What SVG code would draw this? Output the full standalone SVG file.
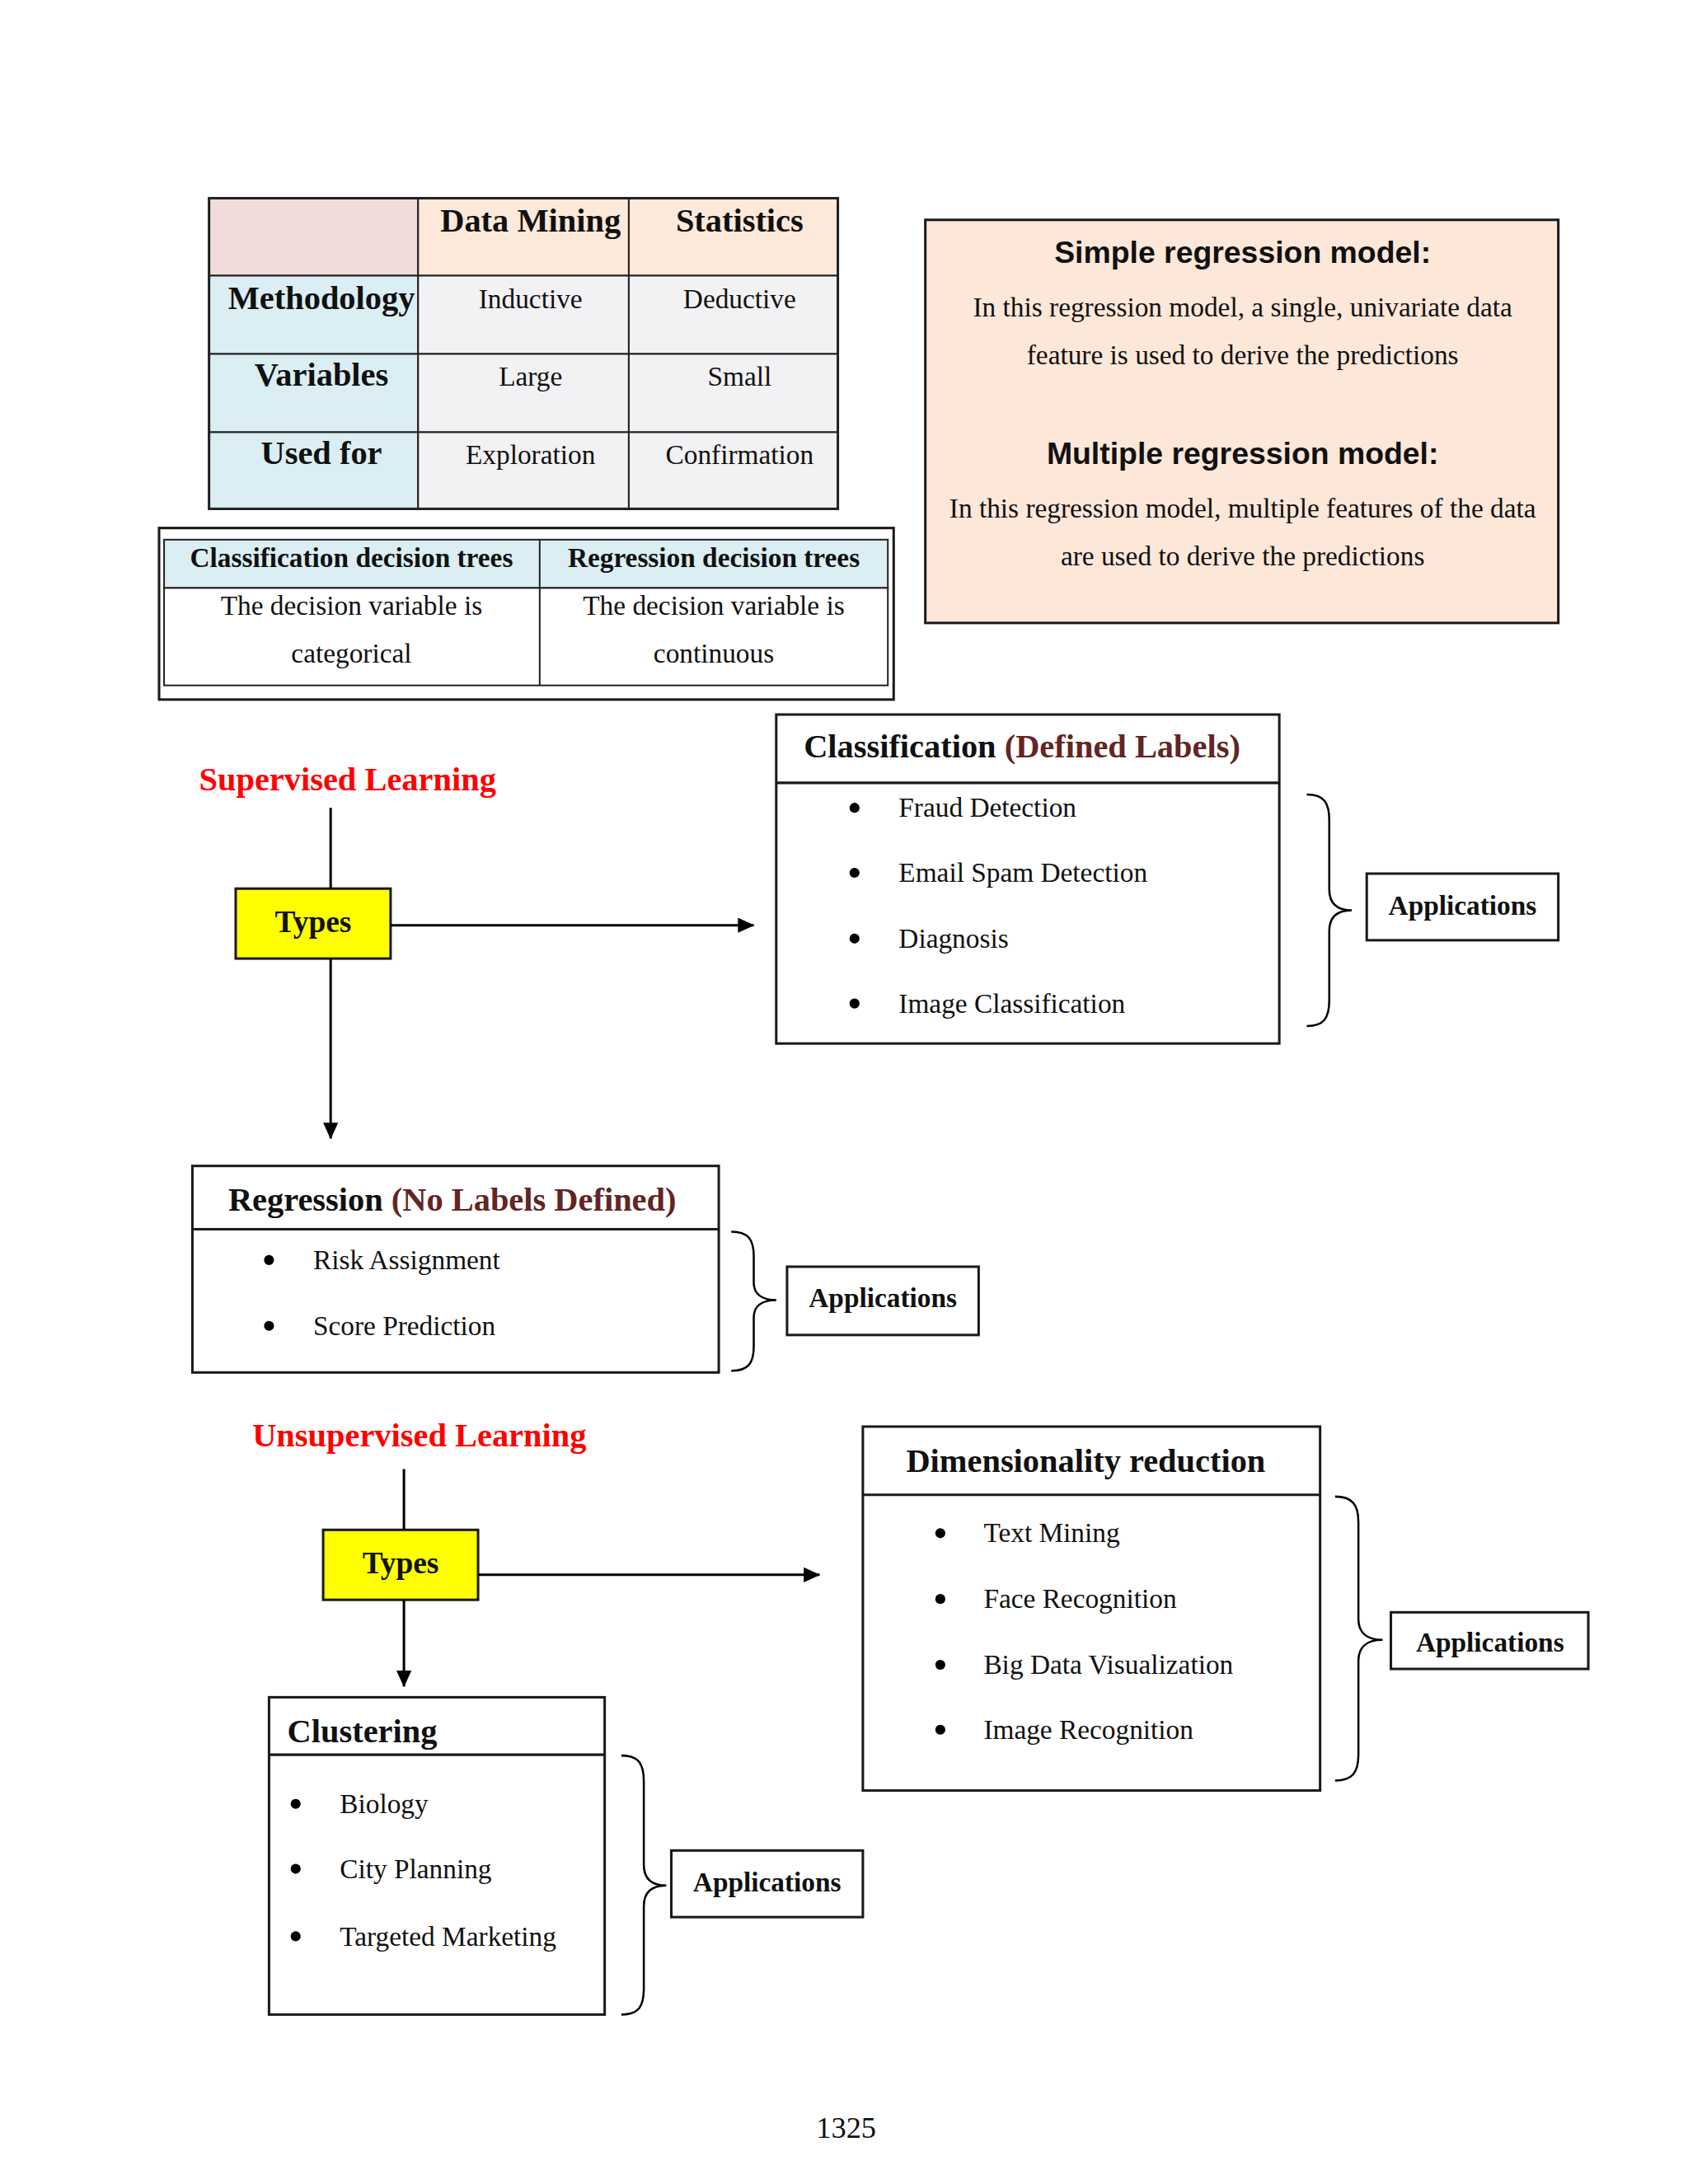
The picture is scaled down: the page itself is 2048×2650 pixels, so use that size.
<svg xmlns="http://www.w3.org/2000/svg" width="2048" height="2650" viewBox="0 0 2048 2650">
<style>
.serif{font-family:"Liberation Serif","Times New Roman",serif;fill:#111}
.b{font-weight:bold}
.body{font-size:33px}
.hdr{font-size:40px;font-weight:bold}
.sans{font-family:"Liberation Sans",Arial,sans-serif;font-weight:bold;font-size:37px;fill:#111}
.red{fill:#ff0000}
.maroon{fill:#632523}
.box{fill:#ffffff;stroke:#1a1a1a;stroke-width:3}
.cell{stroke:#222;stroke-width:2}
.conn{stroke:#000;stroke-width:3;fill:none}
.brace{stroke:#000;stroke-width:2.5;fill:none}
.mid{text-anchor:middle}
</style>
<defs>
<marker id="arr" markerWidth="20" markerHeight="18" refX="19" refY="9" orient="auto" markerUnits="userSpaceOnUse">
<path d="M0,0 L20,9 L0,18 Z" fill="#000"/>
</marker>
</defs>
<rect width="2048" height="2650" fill="#ffffff"/>
<g transform="scale(1.0105)">

<g id="table-dm-stats">
<rect x="251" y="238" width="251" height="93" fill="#f2dcdb" class="cell"/>
<rect x="502" y="238" width="253" height="93" fill="#fde9d9" class="cell"/>
<rect x="755" y="238" width="251" height="93" fill="#fde9d9" class="cell"/>
<rect x="251" y="331" width="251" height="94" fill="#daeef3" class="cell"/>
<rect x="251" y="425" width="251" height="94" fill="#daeef3" class="cell"/>
<rect x="251" y="519" width="251" height="92" fill="#daeef3" class="cell"/>
<rect x="502" y="331" width="253" height="94" fill="#f2f1f3" class="cell"/>
<rect x="755" y="331" width="251" height="94" fill="#f2f1f3" class="cell"/>
<rect x="502" y="425" width="253" height="94" fill="#f2f1f3" class="cell"/>
<rect x="755" y="425" width="251" height="94" fill="#f2f1f3" class="cell"/>
<rect x="502" y="519" width="253" height="92" fill="#f2f1f3" class="cell"/>
<rect x="755" y="519" width="251" height="92" fill="#f2f1f3" class="cell"/>
<rect x="251" y="238" width="755" height="373" fill="none" stroke="#222" stroke-width="3"/>
<text x="637" y="278" class="serif hdr mid">Data Mining</text>
<text x="888" y="278" class="serif hdr mid">Statistics</text>
<text x="386" y="371" class="serif hdr mid">Methodology</text>
<text x="386" y="463" class="serif hdr mid">Variables</text>
<text x="386" y="557" class="serif hdr mid">Used for</text>
<text x="637" y="370" class="serif body mid">Inductive</text>
<text x="888" y="370" class="serif body mid">Deductive</text>
<text x="637" y="463" class="serif body mid">Large</text>
<text x="888" y="463" class="serif body mid">Small</text>
<text x="637" y="557" class="serif body mid">Exploration</text>
<text x="888" y="557" class="serif body mid">Confirmation</text>
</g>

<g id="table-decision-trees">
<rect x="191" y="634" width="882" height="206" fill="#ffffff" stroke="#1a1a1a" stroke-width="3"/>
<rect x="197" y="648" width="869" height="58" fill="#daeef3" class="cell"/>
<rect x="197" y="706" width="869" height="117" fill="#ffffff" class="cell"/>
<line x1="648" y1="648" x2="648" y2="823" class="cell"/>
<text x="422" y="681" class="serif b body mid">Classification decision trees</text>
<text x="857" y="681" class="serif b body mid">Regression decision trees</text>
<text x="422" y="738" class="serif body mid">The decision variable is</text>
<text x="422" y="796" class="serif body mid">categorical</text>
<text x="857" y="738" class="serif body mid">The decision variable is</text>
<text x="857" y="796" class="serif body mid">continuous</text>
</g>

<g id="regression-models">
<rect x="1111" y="264" width="760" height="484" fill="#fde7d8" stroke="#1a1a1a" stroke-width="3"/>
<text x="1492" y="316" class="sans mid">Simple regression model:</text>
<text x="1492" y="380" class="serif body mid">In this regression model, a single, univariate data</text>
<text x="1492" y="437" class="serif body mid">feature is used to derive the predictions</text>
<text x="1492" y="557" class="sans mid">Multiple regression model:</text>
<text x="1492" y="621" class="serif body mid">In this regression model, multiple features of the data</text>
<text x="1492" y="679" class="serif body mid">are used to derive the predictions</text>
</g>

<g id="supervised-label">
<text x="239" y="949" class="serif hdr red">Supervised Learning</text>
</g>

<g id="types-supervised">
<rect x="283" y="1067" width="186" height="84" fill="#ffff00" stroke="#1a1a1a" stroke-width="3"/>
<text x="376" y="1119" class="serif b mid" style="font-size:37px">Types</text>
</g>

<g id="classification">
<rect x="932" y="858" width="604" height="395" class="box"/>
<line x1="932" y1="940" x2="1536" y2="940" stroke="#1a1a1a" stroke-width="3"/>
<text x="965" y="909" class="serif hdr">Classification <tspan class="maroon">(Defined Labels)</tspan></text>
<circle cx="1026" cy="970" r="6" fill="#000"/>
<circle cx="1026" cy="1048" r="6" fill="#000"/>
<circle cx="1026" cy="1127" r="6" fill="#000"/>
<circle cx="1026" cy="1205" r="6" fill="#000"/>
<text x="1079" y="981" class="serif body">Fraud Detection</text>
<text x="1079" y="1059" class="serif body">Email Spam Detection</text>
<text x="1079" y="1138" class="serif body">Diagnosis</text>
<text x="1079" y="1216" class="serif body">Image Classification</text>
</g>

<g id="apps-classification">
<rect x="1641" y="1049" width="230" height="80" class="box"/>
<text x="1756" y="1098" class="serif b body mid">Applications</text>
</g>

<g id="regression">
<rect x="231" y="1400" width="632" height="248" class="box"/>
<line x1="231" y1="1476" x2="863" y2="1476" stroke="#1a1a1a" stroke-width="3"/>
<text x="274" y="1454" class="serif hdr">Regression <tspan class="maroon">(No Labels Defined)</tspan></text>
<circle cx="323" cy="1513" r="6" fill="#000"/>
<circle cx="323" cy="1592" r="6" fill="#000"/>
<text x="376" y="1524" class="serif body">Risk Assignment</text>
<text x="376" y="1603" class="serif body">Score Prediction</text>
</g>

<g id="apps-regression">
<rect x="945" y="1521" width="230" height="82" class="box"/>
<text x="1060" y="1570" class="serif b body mid">Applications</text>
</g>

<g id="unsupervised-label">
<text x="303" y="1737" class="serif hdr red">Unsupervised Learning</text>
</g>

<g id="types-unsupervised">
<rect x="388" y="1837" width="186" height="84" fill="#ffff00" stroke="#1a1a1a" stroke-width="3"/>
<text x="481" y="1889" class="serif b mid" style="font-size:37px">Types</text>
</g>

<g id="dimensionality">
<rect x="1036" y="1713" width="549" height="437" class="box"/>
<line x1="1036" y1="1795" x2="1585" y2="1795" stroke="#1a1a1a" stroke-width="3"/>
<text x="1088" y="1767" class="serif hdr">Dimensionality reduction</text>
<circle cx="1129" cy="1841" r="6" fill="#000"/>
<circle cx="1129" cy="1920" r="6" fill="#000"/>
<circle cx="1129" cy="1999" r="6" fill="#000"/>
<circle cx="1129" cy="2077" r="6" fill="#000"/>
<text x="1181" y="1852" class="serif body">Text Mining</text>
<text x="1181" y="1931" class="serif body">Face Recognition</text>
<text x="1181" y="2010" class="serif body">Big Data Visualization</text>
<text x="1181" y="2088" class="serif body">Image Recognition</text>
</g>

<g id="apps-dimensionality">
<rect x="1670" y="1936" width="237" height="68" class="box"/>
<text x="1789" y="1983" class="serif b body mid">Applications</text>
</g>

<g id="clustering">
<rect x="323" y="2038" width="403" height="381" class="box"/>
<line x1="323" y1="2107" x2="726" y2="2107" stroke="#1a1a1a" stroke-width="3"/>
<text x="345" y="2092" class="serif hdr">Clustering</text>
<circle cx="355" cy="2166" r="6" fill="#000"/>
<circle cx="355" cy="2244" r="6" fill="#000"/>
<circle cx="355" cy="2325" r="6" fill="#000"/>
<text x="408" y="2177" class="serif body">Biology</text>
<text x="408" y="2255" class="serif body">City Planning</text>
<text x="408" y="2336" class="serif body">Targeted Marketing</text>
</g>

<g id="apps-clustering">
<rect x="806" y="2222" width="230" height="80" class="box"/>
<text x="921" y="2271" class="serif b body mid">Applications</text>
</g>

<g id="connectors">
<line x1="397" y1="970" x2="397" y2="1067" class="conn"/>
<line x1="469" y1="1111" x2="905" y2="1111" class="conn" marker-end="url(#arr)"/>
<line x1="397" y1="1151" x2="397" y2="1367" class="conn" marker-end="url(#arr)"/>
<line x1="485" y1="1764" x2="485" y2="1837" class="conn"/>
<line x1="574" y1="1891" x2="984" y2="1891" class="conn" marker-end="url(#arr)"/>
<line x1="485" y1="1921" x2="485" y2="2025" class="conn" marker-end="url(#arr)"/>
<path class="brace" d="M1569,954 C1590,954 1596,964 1596,985 L1596,1068 C1596,1085 1606,1093 1623,1093 C1606,1093 1596,1101 1596,1118 L1596,1201 C1596,1222 1590,1232 1569,1232"/>
<path class="brace" d="M878,1479 C899,1479 905,1489 905,1508 L905,1540 C905,1554 915,1561 932,1561 C915,1561 905,1568 905,1582 L905,1617 C905,1636 899,1646 878,1646"/>
<path class="brace" d="M1603,1797 C1624,1797 1631,1807 1631,1828 L1631,1944 C1631,1961 1642,1969 1660,1969 C1642,1969 1631,1977 1631,1994 L1631,2107 C1631,2128 1624,2138 1603,2138"/>
<path class="brace" d="M746,2108 C767,2108 773,2118 773,2139 L773,2239 C773,2256 783,2264 800,2264 C783,2264 773,2272 773,2289 L773,2388 C773,2409 767,2419 746,2419"/>
</g>

<text x="1016" y="2567" class="serif mid" style="font-size:36px">1325</text>
</g>
</svg>
